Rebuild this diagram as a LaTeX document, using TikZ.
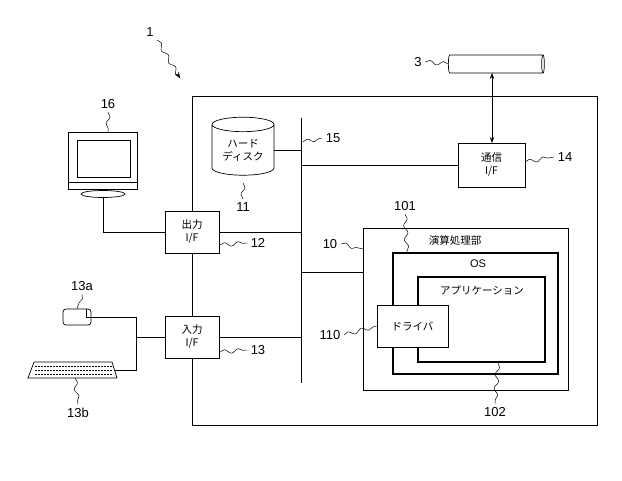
\documentclass[tikz,border=0pt]{standalone}
\usepackage{fontspec}
\setmainfont{Liberation Sans}
\newfontfamily\jp{Noto Sans CJK JP}
\usetikzlibrary{shapes.geometric,arrows.meta,decorations.pathmorphing}
\begin{document}
\begin{tikzpicture}[x=1pt,y=-1pt,line width=0.7pt,
  box/.style={draw,fill=white,align=center,font=\jp\fontsize{10.5}{13}\selectfont,inner sep=0},
  lbl/.style={font=\fontsize{13}{15}\selectfont},
  sq/.style={line width=0.5pt,decorate,decoration={snake,amplitude=2pt,segment length=14pt}}]
\useasboundingbox (0,0) rectangle (622,480);
% outer
\draw (192,96) rectangle (597,425);
\coordinate (bt) at (301,118); \coordinate (bb) at (301,383);
\draw (bt) -- (bb);
% disk
\node[box,cylinder,shape border rotate=90,aspect=0.35,minimum width=62pt,minimum height=58pt] (hd) at (243,150) {ハード\\ディスク};
\draw (hd.east) -- (hd.east -| bt);
\node[lbl] (l11) at (243,207) {11};
\draw[sq] (243,183) -- (l11.north);
\node[lbl] (l15) at (333,138) {15};
\draw[sq] (303,142) -- (l15.west);
% comm
\node[box,minimum width=67pt,minimum height=44pt] (com) at (491.5,165) {通信\\I/F};
\draw (com.west) -- (com.west -| bt);
\node[lbl] (l14) at (565,157) {14};
\draw[sq] (com.east) ++(0,-3) -- (l14.west);
\node[draw,cylinder,minimum width=18pt,minimum height=96pt,aspect=0.4] (tube) at (495,64) {};
\node[lbl] (l3) at (418,62) {3};
\draw[sq] (l3.east) -- (tube.west);
\draw[{Stealth[length=6pt]}-{Stealth[length=6pt]}] (492,73) -- (492,143);
% output IF
\node[box,minimum width=54pt,minimum height=42pt] (out) at (192,232) {出力\\I/F};
\draw (out.east) -- (out.east -| bt);
\node[lbl] (l12) at (258,243) {12};
\draw[sq] (220,245) -- (l12.west);
% input IF
\node[box,minimum width=54pt,minimum height=42pt] (in) at (192,337) {入力\\I/F};
\draw (in.east) -- (in.east -| bt);
\node[lbl] (l13) at (258,350) {13};
\draw[sq] (220,352) -- (l13.west);
% monitor
\node[draw,minimum width=69pt,minimum height=57pt,inner sep=0] (mon) at (102.5,160.5) {};
\draw (77,140) rectangle (130,177);
\draw (68,182) -- (137,182);
\node[draw,ellipse,minimum width=44pt,minimum height=7pt,inner sep=0] (st) at (103,194) {};
\draw (103,197) -- (103,232) -- (out.west);
\node[lbl] (l16) at (108,104) {16};
\draw[sq] (l16.south) -- (108,132);
% mouse
\node[draw,rounded corners=3pt,minimum width=28pt,minimum height=16pt,inner sep=0] (ms) at (77,317) {};
\draw (86,309) -- (86,317) -- (91,317);
\node[lbl] (l13a) at (82,286) {13a};
\draw[sq] (l13a.south) -- (ms.north);
% keyboard
\draw (28,378) -- (34,362) -- (112,362) -- (117,378) -- cycle;
\coordinate (kbe) at (115,370); \coordinate (kbs) at (75,378);
\foreach \yy in {366,370,374} \draw[line width=0.4pt,dash pattern=on 2pt off 1pt] (35,\yy) -- (112,\yy);
\node[lbl] (l13b) at (78,413) {13b};
\draw[sq] (kbs) -- (l13b.north);
\coordinate (j) at (136,337);
\draw (ms.east) -- (136,317) -- (136,370) -- (kbe);
\draw (j) -- (in.west);
% processing
\node[draw,minimum width=205pt,minimum height=162pt,inner sep=0] (p) at (465.5,309) {};
\node[font=\jp\fontsize{10.5}{13}\selectfont] at (455,240) {演算処理部};
\coordinate (pj) at (363,272);
\draw (pj -| bt) -- (pj);
\node[lbl] (l10) at (330,244) {10};
\draw[sq] (l10.east) -- (363,249);
\node[draw,line width=1.1pt,minimum width=165pt,minimum height=121pt,inner sep=0] (os) at (475.5,313.5) {};
\node[font=\fontsize{11}{13}\selectfont] at (478,264) {OS};
\node[lbl] (l101) at (405,206) {101};
\draw[sq] (l101.south) -- (407,252);
\node[draw,line width=1.1pt,minimum width=127pt,minimum height=85pt,inner sep=0] (app) at (481.5,319.5) {};
\node[font=\jp\fontsize{10.5}{13}\selectfont] at (482,290) {アプリケーション};
\node[lbl] (l102) at (495,412) {102};
\draw[sq] (498,363) -- (l102.north);
\node[box,minimum width=71pt,minimum height=42pt] (drv) at (412.5,326) {ドライバ};
\node[lbl] (l110) at (330,335) {110};
\draw[sq] (l110.east) -- (drv.west);
% 1
\node[lbl] (l1) at (150,32) {1};
\draw[sq,-{Stealth[length=6pt]}] (l1.south east) -- (180,78);
\end{tikzpicture}
\end{document}
